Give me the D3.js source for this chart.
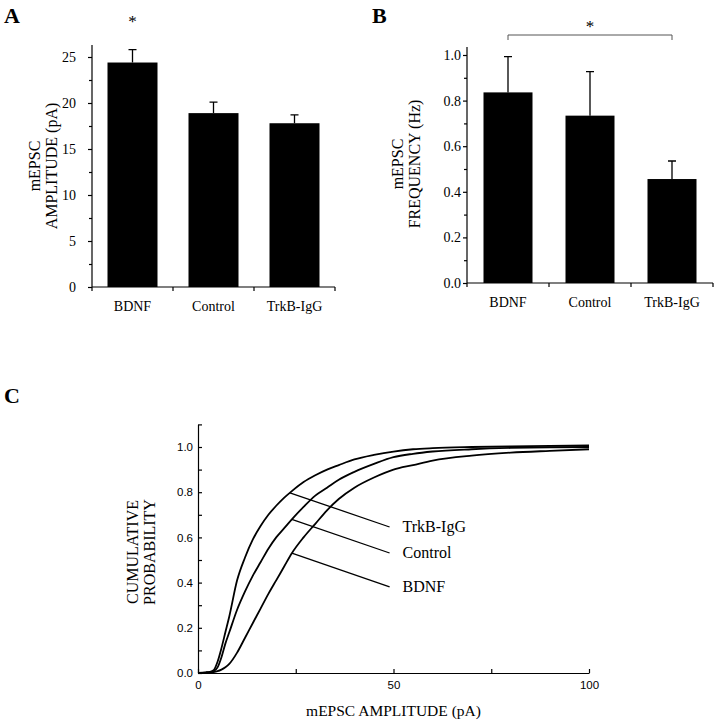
<!DOCTYPE html>
<html>
<head>
<meta charset="utf-8">
<script src="https://cdn.jsdelivr.net/npm/d3@7/dist/d3.min.js"></script>
<style>
  html, body { margin: 0; padding: 0; background: #fff; }
  svg { display: block; }
  .serif { font-family: "Liberation Serif", "Times New Roman", serif; }
  .sans { font-family: "Liberation Sans", Arial, sans-serif; }
  .axis path, .axis line { stroke: #000; stroke-width: 1.2; }
</style>
</head>
<body>
<svg id="fig" width="717" height="720"></svg>
<script>
/*global d3*/

// bar panels (A, B)
var categories = ["BDNF", "Control", "TrkB-IgG"];
var amplitudeMean = [24.4, 18.9, 17.8];
var amplitudeSem = [1.4, 1.2, 0.9];
var amplitudeTicks = [0, 5, 10, 15, 20, 25];
var frequencyMean = [0.836, 0.734, 0.456];
var frequencySem = [0.157, 0.193, 0.079];
var frequencyTicks = [0, 0.2, 0.4, 0.6, 0.8, 1.0];

// cumulative panel (C)
var cumAmplitude = [0, 2, 3, 4, 5, 6, 7, 8, 10, 12, 14, 16, 18, 20, 22, 24, 27, 30,
  33, 36, 40, 45, 50, 55, 60, 70, 80, 90, 100];
var cumTrkB = [0, 0.003, 0.005, 0.012, 0.05, 0.11, 0.18, 0.25, 0.41, 0.51, 0.59, 0.65,
  0.7, 0.74, 0.775, 0.805, 0.845, 0.875, 0.9, 0.92, 0.945, 0.965, 0.98, 0.99, 0.995,
  1.0, 1.003, 1.005, 1.007];
var cumControl = [0, 0.002, 0.004, 0.008, 0.025, 0.07, 0.13, 0.18, 0.28, 0.36, 0.43,
  0.49, 0.55, 0.6, 0.64, 0.68, 0.735, 0.785, 0.82, 0.855, 0.89, 0.925, 0.955, 0.97,
  0.98, 0.99, 0.996, 0.999, 1.0];
var cumBDNF = [0, 0.001, 0.002, 0.004, 0.008, 0.015, 0.025, 0.04, 0.09, 0.155, 0.22,
  0.285, 0.35, 0.41, 0.47, 0.53, 0.6, 0.66, 0.72, 0.77, 0.82, 0.865, 0.9, 0.92, 0.94,
  0.962, 0.975, 0.983, 0.99];
var curveNames = ["TrkB-IgG", "Control", "BDNF"];
var leaderFromAmp = [23.5, 24, 24];
var leaderTo = [[49, 0.646], [49, 0.531], [49, 0.381]];

(function () {
  "use strict";

  var svg = d3.select("#fig"),

    panelLetter = function (txt, x, y) {
      svg.append("text")
        .attr("class", "serif")
        .attr("x", x)
        .attr("y", y)
        .attr("font-size", 22)
        .attr("font-weight", "bold")
        .text(txt);
    },

    rotatedTitle = function (lines, x, y, size) {
      var g = svg.append("g")
        .attr("transform", "translate(" + x + "," + y + ") rotate(-90)");
      lines.forEach(function (l, i) {
        g.append("text")
          .attr("class", "serif")
          .attr("text-anchor", "middle")
          .attr("x", 0)
          .attr("y", i * 17)
          .attr("font-size", size)
          .text(l);
      });
    },

    drawBars = function (opt) {
      var x = d3.scaleBand()
          .domain(opt.cats)
          .range([opt.left, opt.right]),
        y = d3.scaleLinear()
          .domain([0, opt.max])
          .range([opt.bottom, opt.top]),
        g = svg.append("g"),
        ax,
        barW = opt.barW;

      // y axis, minor ticks first
      g.append("g")
        .attr("class", "axis")
        .attr("transform", "translate(" + opt.left + ",0)")
        .call(d3.axisLeft(y).tickValues(opt.minor).tickSize(3).tickFormat(""))
        .select(".domain").remove();
      ax = g.append("g")
        .attr("class", "axis serif")
        .attr("transform", "translate(" + opt.left + ",0)")
        .call(d3.axisLeft(y).tickValues(opt.ticks).tickSize(4)
          .tickPadding(opt.pad).tickFormat(opt.fmt));
      ax.select(".domain").remove();
      ax.selectAll("text").attr("font-size", 14).attr("fill", "#000")
        .attr("font-family", "Liberation Serif, serif");
      g.append("line")
        .attr("x1", opt.left).attr("x2", opt.left)
        .attr("y1", opt.bottom).attr("y2", opt.axisTop)
        .attr("stroke", "#000").attr("stroke-width", 1.2);

      // x axis with ticks at band edges
      g.append("line")
        .attr("x1", opt.left).attr("x2", opt.right)
        .attr("y1", opt.bottom).attr("y2", opt.bottom)
        .attr("stroke", "#000").attr("stroke-width", 1.2);
      g.selectAll(".xt")
        .data(opt.cats.concat([null]))
        .enter().append("line")
        .attr("x1", function (d, i) { return opt.left + i * x.step(); })
        .attr("x2", function (d, i) { return opt.left + i * x.step(); })
        .attr("y1", opt.bottom).attr("y2", opt.bottom + 4)
        .attr("stroke", "#000").attr("stroke-width", 1.2);

      g.selectAll(".bar")
        .data(opt.mean)
        .enter().append("rect")
        .attr("x", function (d, i) { return x(opt.cats[i]) + (x.bandwidth() - barW) / 2; })
        .attr("width", barW)
        .attr("y", function (d) { return y(d); })
        .attr("height", function (d) { return opt.bottom - y(d); })
        .attr("fill", "#000");

      g.selectAll(".err")
        .data(opt.mean)
        .enter().append("path")
        .attr("d", function (d, i) {
          var cx = x(opt.cats[i]) + x.bandwidth() / 2,
            yt = y(d + opt.sem[i]);
          return "M" + cx + "," + y(d) + "V" + yt + "M" + (cx - 4) + "," + yt + "H" + (cx + 4);
        })
        .attr("stroke", "#000").attr("stroke-width", 1.3).attr("fill", "none");

      g.selectAll(".cat")
        .data(opt.cats)
        .enter().append("text")
        .attr("class", "serif")
        .attr("text-anchor", "middle")
        .attr("x", function (d) { return x(d) + x.bandwidth() / 2; })
        .attr("y", opt.bottom + 24)
        .attr("font-size", 14)
        .text(function (d) { return d; });

      return {x: x, y: y};
    },

    a, b, xc, yc, line, series, interp;

  // ---------------- A ----------------
  panelLetter("A", 4, 23);
  a = drawBars({
    cats: categories, mean: amplitudeMean, sem: amplitudeSem,
    left: 92, right: 335, bottom: 287, top: 57, axisTop: 45, max: 25,
    ticks: amplitudeTicks, minor: [2.5, 7.5, 12.5, 17.5, 22.5],
    fmt: d3.format("d"), pad: 12, barW: 50
  });
  svg.append("text")
    .attr("class", "serif")
    .attr("text-anchor", "middle")
    .attr("x", a.x("BDNF") + a.x.bandwidth() / 2)
    .attr("y", 27)
    .attr("font-size", 17)
    .text("*");
  rotatedTitle(["mEPSC", "AMPLITUDE (pA)"], 40, 166, 16);

  // ---------------- B ----------------
  panelLetter("B", 372, 23);
  b = drawBars({
    cats: categories, mean: frequencyMean, sem: frequencySem,
    left: 467, right: 713, bottom: 283, top: 55, axisTop: 47, max: 1.0,
    ticks: frequencyTicks, minor: [0.1, 0.3, 0.5, 0.7, 0.9],
    fmt: d3.format(".1f"), pad: 2, barW: 49
  });
  (function () {
    var x1 = b.x("BDNF") + b.x.bandwidth() / 2,
      x2 = b.x("TrkB-IgG") + b.x.bandwidth() / 2;
    svg.append("path")
      .attr("d", "M" + x1 + ",40V35H" + x2 + "V40")
      .attr("stroke", "#555").attr("stroke-width", 1).attr("fill", "none");
    svg.append("text")
      .attr("class", "serif")
      .attr("text-anchor", "middle")
      .attr("x", (x1 + x2) / 2)
      .attr("y", 32)
      .attr("font-size", 17)
      .text("*");
  }());
  rotatedTitle(["mEPSC", "FREQUENCY (Hz)"], 403, 164, 16);

  // ---------------- C ----------------
  panelLetter("C", 4, 403);
  xc = d3.scaleLinear().domain([0, 100]).range([198, 589]);
  yc = d3.scaleLinear().domain([0, 1.1]).range([673, 424.4]);

  (function () {
    var gy = svg.append("g").attr("class", "axis").attr("transform", "translate(198,0)"),
      gx = svg.append("g").attr("class", "axis").attr("transform", "translate(0,673)");
    gy.call(d3.axisLeft(yc).tickValues([0.1, 0.3, 0.5, 0.7, 0.9, 1.1])
      .tickSize(-4).tickFormat(""));
    gy.select(".domain").remove();
    gy = svg.append("g").attr("class", "axis").attr("transform", "translate(198,0)");
    gy.call(d3.axisLeft(yc).tickValues([0, 0.2, 0.4, 0.6, 0.8, 1.0])
      .tickSize(-4).tickSizeOuter(0).tickPadding(5).tickFormat(d3.format(".1f")));
    gy.selectAll("text").attr("class", "sans").attr("font-size", 11.5).attr("fill", "#000");

    gx.call(d3.axisBottom(xc).tickValues([25, 75]).tickSize(-4).tickFormat(""));
    gx.select(".domain").remove();
    gx = svg.append("g").attr("class", "axis").attr("transform", "translate(0,673)");
    gx.call(d3.axisBottom(xc).tickValues([0, 50, 100])
      .tickSize(-4).tickSizeOuter(0).tickPadding(8).tickFormat(d3.format("d")));
    gx.selectAll("text").attr("class", "sans").attr("font-size", 11.5).attr("fill", "#000");
  }());

  line = d3.line()
    .x(function (d) { return xc(d[0]); })
    .y(function (d) { return yc(d[1]); })
    .curve(d3.curveMonotoneX);

  series = [cumTrkB, cumControl, cumBDNF];
  series.forEach(function (vals) {
    svg.append("path")
      .datum(cumAmplitude.map(function (v, i) { return [v, vals[i]]; }))
      .attr("d", line)
      .attr("fill", "none")
      .attr("stroke", "#000")
      .attr("stroke-width", 1.8);
  });

  interp = function (vals, amp) {
    var i = d3.bisectRight(cumAmplitude, amp) - 1,
      t = (amp - cumAmplitude[i]) / (cumAmplitude[i + 1] - cumAmplitude[i]);
    return vals[i] + t * (vals[i + 1] - vals[i]);
  };

  series.forEach(function (vals, k) {
    var sx = leaderFromAmp[k],
      sy = interp(vals, sx),
      e = leaderTo[k];
    svg.append("line")
      .attr("x1", xc(sx)).attr("y1", yc(sy))
      .attr("x2", xc(e[0])).attr("y2", yc(e[1]))
      .attr("stroke", "#000").attr("stroke-width", 1.3);
    svg.append("text")
      .attr("class", "serif")
      .attr("x", xc(e[0]) + 13)
      .attr("y", yc(e[1]) + 5)
      .attr("font-size", 16)
      .text(curveNames[k]);
  });

  rotatedTitle(["CUMULATIVE", "PROBABILITY"], 138, 552, 16);
  svg.append("text")
    .attr("class", "serif")
    .attr("text-anchor", "middle")
    .attr("x", (xc(0) + xc(100)) / 2)
    .attr("y", 716)
    .attr("font-size", 15.5)
    .text("mEPSC AMPLITUDE (pA)");
}());
</script>
</body>
</html>
